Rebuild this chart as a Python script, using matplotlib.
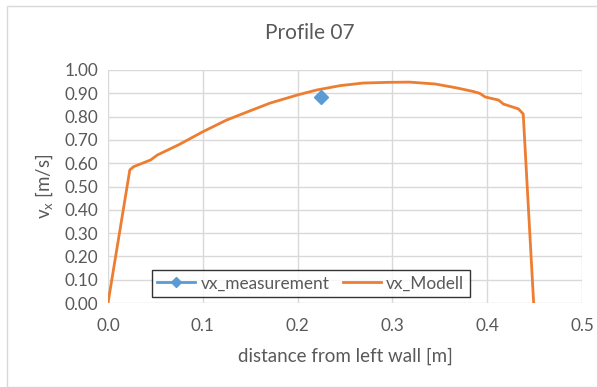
import matplotlib
matplotlib.use("Agg")
import matplotlib.pyplot as plt
from matplotlib.patches import Rectangle
from matplotlib.lines import Line2D

title = "Profile 07"
x_label = "distance from left wall [m]"
y_label = r"v$_\mathregular{x}$ [m/s]"

meas_x = [0.225]
meas_y = [0.884]

model_x = [0, 0.023, 0.027, 0.045, 0.052, 0.075, 0.1, 0.125, 0.15, 0.171, 0.2, 0.22,
           0.245, 0.269, 0.295, 0.318, 0.345, 0.368, 0.385, 0.392, 0.398, 0.412, 0.417,
           0.433, 0.438, 0.449]
model_y = [0, 0.571, 0.585, 0.614, 0.635, 0.68, 0.735, 0.785, 0.825, 0.858, 0.893, 0.914,
           0.933, 0.944, 0.947, 0.948, 0.94, 0.923, 0.908, 0.90, 0.884, 0.871, 0.854,
           0.833, 0.811, 0.0]

x_ticks = [0.0, 0.1, 0.2, 0.3, 0.4, 0.5]
y_ticks = [0.0, 0.1, 0.2, 0.3, 0.4, 0.5, 0.6, 0.7, 0.8, 0.9, 1.0]

plt.rcParams['font.family'] = ['Lato', 'DejaVu Sans']
W, H = 597, 387
fig = plt.figure(figsize=(W/100, H/100), dpi=100)
fig.patches.append(Rectangle((7/W, 0), 1, 1 - 6/H, transform=fig.transFigure,
                             fill=False, edgecolor='#d9d9d9', linewidth=1))
ax = fig.add_axes([108/W, 1 - 303/H, 474/W, 233/H])
blue = '#5B9BD5'
orange = '#ED7D31'
ax.plot(model_x, model_y, color=orange, linewidth=2, zorder=3)
ax.plot(meas_x, meas_y, color=blue, linewidth=2, marker='D', markersize=7, zorder=4)

ax.set_xlim(0, 0.5)
ax.set_ylim(0, 1.0)
ax.set_xticks(x_ticks)
ax.set_xticklabels([f"{v:.1f}" for v in x_ticks])
ax.set_yticks(y_ticks)
ax.set_yticklabels([f"{v:.2f}" for v in y_ticks])
ax.grid(True, color='#d9d9d9', linewidth=1)
ax.set_axisbelow(True)
for s in ax.spines.values():
    s.set_visible(False)
ax.tick_params(length=0, labelsize=12.3, labelcolor='#595959', pad=7)
ax.tick_params(axis='x', pad=11)

fig.text(310/W, 1 - 33/H, title, ha='center', va='center', fontsize=15, color='#595959')
fig.text(345/W, 1 - 356/H, x_label, ha='center', va='center', fontsize=13.5, color='#595959')
fig.text(44/W, 1 - 186/H, y_label, ha='center', va='center', rotation=90, fontsize=13.5, color='#595959')

handles = [Line2D([0], [0], color=blue, linewidth=2, marker='D', markersize=5),
           Line2D([0], [0], color=orange, linewidth=2)]
leg = ax.legend(handles, ['vx_measurement', 'vx_Modell'], loc='center',
                bbox_to_anchor=(0.428, 0.084), ncol=2, frameon=True, fancybox=False,
                edgecolor='black', fontsize=12.4, handlelength=2.2, columnspacing=0.8,
                borderpad=0.32, handletextpad=0.3, borderaxespad=0)
leg.get_frame().set_linewidth(1)
for t in leg.get_texts():
    t.set_color('#595959')
fig.savefig("out.png", dpi=100)
